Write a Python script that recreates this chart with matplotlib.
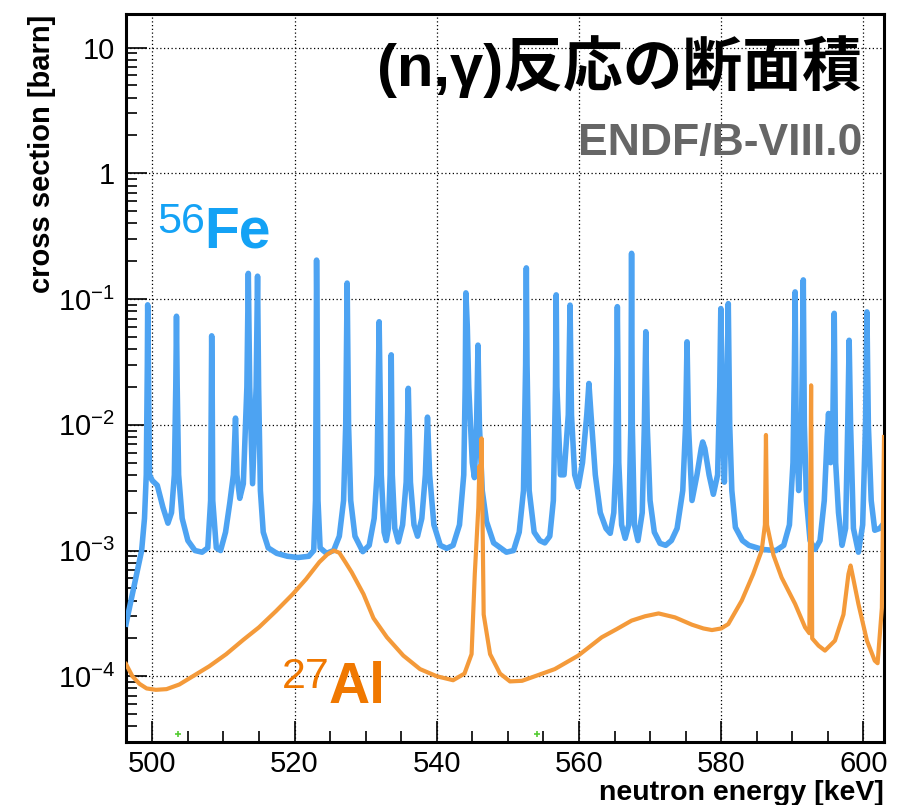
import matplotlib
matplotlib.use('Agg')
import matplotlib.pyplot as plt
import matplotlib.ticker as ticker

plt.rcParams['font.family'] = ['Liberation Sans', 'DejaVu Sans']
plt.rcParams['mathtext.fontset'] = 'custom'
plt.rcParams['mathtext.rm'] = 'Liberation Sans'
plt.rcParams['mathtext.it'] = 'Liberation Sans:italic'
plt.rcParams['mathtext.bf'] = 'Liberation Sans:bold'

# 56Fe (n,gamma) cross section [keV, barn]
fe_energy = [
    496.3, 497.0, 497.8, 498.5, 498.9, 499.15, 499.3, 499.35, 499.45, 499.6,
    500.0, 500.7, 501.5, 502.2, 502.7, 503.1, 503.3, 503.4, 503.5, 503.7,
    504.2, 505.0, 506.0, 507.0, 507.8, 508.2, 508.3, 508.35, 508.42, 508.5,
    509.0, 509.6, 510.3, 510.9, 511.4, 511.7, 511.9, 512.3, 512.8, 513.3,
    513.5, 513.7, 514.1, 514.6, 514.8, 514.95, 515.2, 515.6, 516.3, 517.5,
    519.0, 520.5, 522.0, 522.7, 522.95, 523.05, 523.1, 523.2, 523.3, 523.6,
    524.5, 525.5, 526.3, 526.9, 527.2, 527.4, 527.6, 527.9, 528.5, 529.6,
    530.5, 531.2, 531.6, 531.9, 532.2, 532.6, 532.9, 533.2, 533.45, 533.6,
    533.75, 534.1, 534.6, 535.2, 535.7, 536.0, 536.3, 536.8, 537.3, 537.9,
    538.4, 538.7, 539.0, 539.6, 540.5, 541.4, 542.3, 543.2, 543.8, 544.0,
    544.1, 544.3, 544.5, 545.0, 545.3, 545.6, 545.8, 546.0, 546.4, 547.0,
    548.0, 549.8, 550.8, 551.6, 552.2, 552.5, 552.6, 552.7, 553.0, 553.7,
    554.5, 555.2, 555.9, 556.4, 556.7, 556.8, 556.9, 557.4, 557.9, 558.5,
    558.75, 558.95, 559.4, 559.9, 560.5, 561.1, 561.4, 561.7, 562.3, 563.0,
    563.8, 564.4, 564.9, 565.2, 565.4, 565.6, 566.0, 566.5, 567.0, 567.3,
    567.4, 567.5, 567.8, 568.3, 568.9, 569.2, 569.4, 569.6, 570.0, 570.6,
    571.4, 572.2, 573.0, 573.8, 574.6, 575.0, 575.2, 575.4, 575.9, 576.6,
    577.2, 577.4, 577.7, 578.3, 578.9, 579.5, 579.8, 579.95, 580.2, 580.45,
    580.8, 581.0, 581.2, 581.5, 582.0, 583.0, 583.9, 585.8, 587.7, 588.8,
    589.6, 590.1, 590.3, 590.4, 590.55, 590.9, 591.3, 591.55, 591.7, 592.0,
    592.5, 593.2, 593.9, 594.5, 594.9, 595.1, 595.4, 595.7, 595.9, 596.1,
    596.5, 597.0, 597.5, 597.8, 598.0, 598.2, 598.6, 599.3, 599.9, 600.3,
    600.5, 600.7, 601.1, 601.6, 602.3, 602.9,
]
fe_xs = [
    2.6e-4, 4.0e-4, 6.5e-4, 1.0e-3, 1.8e-3, 4.0e-3, 0.03, 0.09, 0.03, 4.0e-3,
    3.6e-3, 3.3e-3, 2.2e-3, 1.65e-3, 2.0e-3, 4e-3, 0.02, 0.073, 0.02, 4e-3,
    1.8e-3, 1.2e-3, 1.0e-3, 0.97e-3, 1.05e-3, 2.5e-3, 0.02, 0.051, 0.02, 2.5e-3,
    1.05e-3, 1.0e-3, 1.4e-3, 2.4e-3, 4e-3, 0.0113, 4e-3, 2.6e-3, 3.4e-3, 0.02,
    0.16, 0.02, 3.4e-3, 0.02, 0.152, 0.02, 3e-3, 1.4e-3, 1.05e-3, 0.95e-3,
    0.9e-3, 0.88e-3, 0.9e-3, 1.0e-3, 2.5e-3, 0.03, 0.204, 0.03, 2.5e-3, 1.05e-3,
    0.95e-3, 1.0e-3, 1.3e-3, 2.5e-3, 0.01, 0.134, 0.01, 2.5e-3, 1.3e-3, 0.98e-3,
    1.1e-3, 1.8e-3, 4e-3, 0.066, 4e-3, 1.4e-3, 1.2e-3, 1.5e-3, 4e-3, 0.036,
    4e-3, 1.5e-3, 1.17e-3, 1.6e-3, 3.5e-3, 0.0195, 3.5e-3, 1.6e-3, 1.3e-3, 1.8e-3,
    4e-3, 0.0115, 4e-3, 1.6e-3, 1.1e-3, 1.04e-3, 1.1e-3, 1.6e-3, 4e-3, 0.02,
    0.112, 0.06, 0.02, 5e-3, 3.8e-3, 0.01, 0.043, 0.01, 3e-3, 1.7e-3,
    1.15e-3, 0.97e-3, 1.0e-3, 1.4e-3, 3e-3, 0.03, 0.177, 0.03, 3e-3, 1.4e-3,
    1.2e-3, 1.15e-3, 1.3e-3, 2.5e-3, 0.02, 0.108, 0.02, 4e-3, 4e-3, 0.012,
    0.0895, 0.012, 4e-3, 3.2e-3, 5e-3, 0.012, 0.0213, 0.012, 4e-3, 2e-3,
    1.5e-3, 1.37e-3, 2e-3, 5e-3, 0.087, 5e-3, 1.6e-3, 1.25e-3, 1.6e-3, 0.01,
    0.231, 0.01, 1.6e-3, 1.2e-3, 2e-3, 0.01, 0.055, 0.01, 2.5e-3, 1.4e-3,
    1.14e-3, 1.1e-3, 1.2e-3, 1.5e-3, 3e-3, 0.01, 0.0457, 0.01, 2.5e-3, 4e-3,
    6.5e-3, 7.3e-3, 6.5e-3, 4e-3, 2.8e-3, 4e-3, 0.02, 0.084, 0.01, 3.5e-3,
    0.02, 0.092, 0.01, 3e-3, 1.53e-3, 1.2e-3, 1.1e-3, 1.02e-3, 1.0e-3, 1.1e-3,
    1.6e-3, 5e-3, 0.03, 0.114, 0.01, 3e-3, 0.01, 0.142, 0.01, 2.5e-3,
    1.2e-3, 1.02e-3, 1.2e-3, 2.5e-3, 8e-3, 0.0123, 5e-3, 0.01, 0.077, 5e-3,
    2e-3, 1.1e-3, 1.5e-3, 0.01, 0.047, 0.01, 1.5e-3, 0.97e-3, 1.6e-3, 0.01,
    0.079, 0.01, 2.5e-3, 1.45e-3, 1.5e-3, 1.65e-3,
]

# 27Al (n,gamma) cross section [keV, barn]
al_energy = [
    496.3, 497.2, 498.2, 499.2, 500.5, 502.0, 503.8, 505.7, 508.0, 510.4,
    512.8, 515.0, 517.4, 519.75, 521.6, 523.5, 524.6, 525.5, 526.3, 527.2,
    528.05, 529.7, 531.1, 533.0, 535.3, 537.65, 540.0, 542.3, 543.9, 544.9,
    545.35, 545.85, 546.0, 546.2, 546.3, 546.45, 546.6, 547.5, 548.9, 550.3,
    552.0, 553.8, 556.6, 559.9, 563.2, 565.3, 567.4, 569.3, 571.2, 573.5,
    575.9, 577.5, 578.7, 580.0, 581.0, 582.9, 584.5, 585.7, 586.15, 586.3,
    586.45, 587.35, 588.5, 590.4, 591.8, 592.4, 592.65, 592.8, 593.7, 594.6,
    596.0, 597.2, 597.9, 598.2, 598.45, 599.3, 600.5, 601.6, 602.0, 602.6,
    602.9,
]
al_xs = [
    1.25e-4, 1.0e-4, 8.7e-5, 8.0e-5, 7.8e-5, 7.9e-5, 8.6e-5, 1.0e-4, 1.2e-4, 1.5e-4,
    1.95e-4, 2.45e-4, 3.3e-4, 4.5e-4, 5.9e-4, 8.1e-4, 9.3e-4, 1.0e-3, 9.6e-4, 8.0e-4,
    6.7e-4, 4.5e-4, 2.9e-4, 2.04e-4, 1.46e-4, 1.14e-4, 1.0e-4, 9.3e-5, 1.05e-4, 1.5e-4,
    6.5e-4, 2.2e-3, 4.7e-3, 3e-3, 7.8e-3, 1.6e-3, 3.1e-4, 1.5e-4, 1.05e-4, 9.1e-5,
    9.2e-5, 1.0e-4, 1.14e-4, 1.46e-4, 2.04e-4, 2.37e-4, 2.77e-4, 3.0e-4, 3.16e-4, 2.94e-4,
    2.57e-4, 2.4e-4, 2.33e-4, 2.4e-4, 2.6e-4, 4.0e-4, 6.5e-4, 1.0e-3, 1.6e-3, 8.3e-3,
    1.6e-3, 9.2e-4, 6.1e-4, 3.76e-4, 2.45e-4, 2.2e-4, 0.0206, 2.0e-4, 1.75e-4, 1.6e-4,
    1.92e-4, 3.1e-4, 6.5e-4, 7.6e-4, 6.5e-4, 3.76e-4, 1.92e-4, 1.33e-4, 1.27e-4, 3.5e-4,
    8e-3,
]

# stray points near the bottom of the frame
other_energy = [503.65, 554.1]
other_xs = [3.45e-5, 3.45e-5]

x_ticks = [500, 520, 540, 560, 580, 600]
y_ticks = [1e-4, 1e-3, 1e-2, 1e-1, 1, 10]
y_tick_labels = [r'$10^{-4}$', r'$10^{-3}$', r'$10^{-2}$', r'$10^{-1}$', '1', '10']

fig = plt.figure(figsize=(9.08, 8.05), dpi=100)
ax = fig.add_axes([126 / 908, 1 - 742 / 805, 758 / 908, 728 / 805])

ax.plot(fe_energy, fe_xs, color='#4da3f2', lw=4.0, solid_joinstyle='round', zorder=3)
ax.plot(al_energy, al_xs, color='#f49a3a', lw=3.0, solid_joinstyle='round', zorder=4)
ax.plot(other_energy, other_xs, '+', color='#55cc33', ms=4, mew=1.2, zorder=5)

ax.set_yscale('log')
ax.set_xlim(496.3, 602.9)
ax.set_ylim(3.0e-5, 18.5)

ax.set_xticks(x_ticks)
ax.xaxis.set_minor_locator(ticker.MultipleLocator(5))
ax.set_yticks(y_ticks)
ax.set_yticklabels(y_tick_labels)
ax.yaxis.set_minor_locator(ticker.LogLocator(base=10, subs=range(2, 10), numticks=20))
ax.yaxis.set_minor_formatter(ticker.NullFormatter())

ax.tick_params(which='both', direction='in', top=False, right=False, labelsize=21, width=1.2)
ax.tick_params(axis='x', pad=6)
ax.tick_params(axis='y', pad=8)
ax.tick_params(which='major', length=15)
ax.tick_params(which='minor', length=8)
ax.grid(True, which='major', color='black', linestyle=(0, (1, 2)), lw=0.9)
for s in ax.spines.values():
    s.set_linewidth(2.2)

fig.text(42 / 908, 1 - 15 / 805, 'cross section [barn]', rotation=90, ha='center', va='top',
         fontsize=21, fontweight='bold')
fig.text(884 / 908, 1 - 800 / 805, 'neutron energy [keV]', ha='right', va='baseline',
         fontsize=20.5, fontweight='bold')

fig.text(862 / 908, 1 - 86 / 805, '(n,γ)反応の断面積', ha='right', va='baseline',
         fontsize=43, fontweight='bold', family=['Liberation Sans', 'Noto Sans CJK JP'])
fig.text(862 / 908, 1 - 155 / 805, 'ENDF/B-VIII.0', ha='right', va='baseline',
         fontsize=32, fontweight='bold', color='#666666')

fig.text(205 / 908, 1 - 233 / 805, '56', ha='right', va='baseline', fontsize=31, color='#14a2f5')
fig.text(204 / 908, 1 - 247 / 805, 'Fe', ha='left', va='baseline', fontsize=41,
         fontweight='bold', color='#14a2f5')
fig.text(330 / 908, 1 - 688 / 805, '27', ha='right', va='baseline', fontsize=31, color='#f07800')
fig.text(329 / 908, 1 - 703 / 805, 'Al', ha='left', va='baseline', fontsize=41,
         fontweight='bold', color='#f07800')

fig.savefig('out.png', dpi=100)
